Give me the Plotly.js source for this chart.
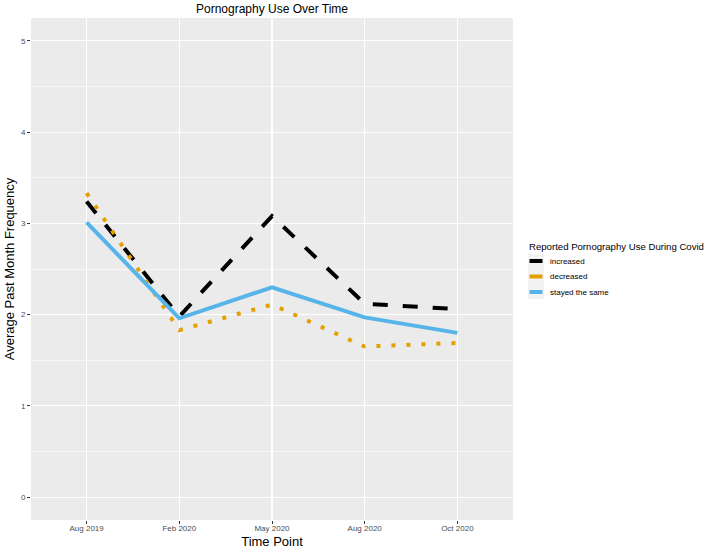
<!DOCTYPE html>
<html>
<head>
<meta charset="utf-8">
<script src="https://cdn.plot.ly/plotly-3.0.1.min.js"></script>
<style>html,body{margin:0;padding:0;background:#fff;}#chart{width:709px;height:549px;}</style>
</head>
<body>
<div id="chart"></div>
<script>
const timePoints = ["Aug 2019", "Feb 2020", "May 2020", "Aug 2020", "Oct 2020"];
const increased = [3.24, 1.98, 3.08, 2.12, 2.06];
const decreased = [3.33, 1.83, 2.11, 1.65, 1.69];
const stayedSame = [3.01, 1.96, 2.30, 1.97, 1.80];
const groupNames = ["increased", "decreased", "stayed the same"];
const legendTitle = "Reported Pornography Use During Covid";
const yTicks = [0, 1, 2, 3, 4, 5];

const colors = ["#000000", "#E69F00", "#56B4E9"];
const dashes = ["15px,15px", "4px,11px", "solid"];
const series = [increased, decreased, stayedSame];

const traces = series.map((vals, i) => ({
  x: timePoints, y: vals, type: "scatter", mode: "lines",
  name: groupNames[i], showlegend: false, hoverinfo: "skip",
  line: {color: colors[i], width: 4, dash: dashes[i]}
}));

const L = 31, R = 513, T = 18, B = 520;
const px2x = p => (p - L) / (R - L);
const px2y = p => (B - p) / (B - T);

// legend drawn as shapes + annotations (ggplot-style short solid keys)
const keyY = [261, 276.5, 292];
const shapes = [{
  type: "rect", xref: "paper", yref: "paper", layer: "below",
  x0: px2x(528), x1: px2x(544), y0: px2y(299), y1: px2y(254),
  fillcolor: "#F2F2F2", line: {width: 0}
}];
const annotations = [{
  text: legendTitle, showarrow: false,
  xref: "paper", yref: "paper", x: px2x(527), xanchor: "left", y: px2y(246), yanchor: "middle",
  font: {size: 9.6, color: "#000"}
}];
groupNames.forEach((g, i) => {
  shapes.push({
    type: "line", xref: "paper", yref: "paper",
    x0: px2x(529.5), x1: px2x(542.5), y0: px2y(keyY[i]), y1: px2y(keyY[i]),
    line: {color: colors[i], width: 4}
  });
  annotations.push({
    text: g, showarrow: false, xref: "paper", yref: "paper",
    x: px2x(548), xanchor: "left", y: px2y(keyY[i]), yanchor: "middle",
    font: {size: 8, color: "#000"}
  });
});

const layout = {
  width: 709, height: 549,
  margin: {l: L, r: 709 - R, t: T, b: 549 - B},
  paper_bgcolor: "#ffffff",
  plot_bgcolor: "#EBEBEB",
  font: {family: "Liberation Sans, Arial, sans-serif", color: "#000"},
  title: {text: "Pornography Use Over Time", font: {size: 12, color: "#000"},
          xref: "paper", x: 0.5, xanchor: "center", yref: "container", y: 1 - 9/549, yanchor: "middle"},
  xaxis: {
    type: "category", categoryorder: "array", categoryarray: timePoints,
    range: [-0.6, 4.6], showgrid: true, gridcolor: "#ffffff", gridwidth: 1.1,
    zeroline: false, showline: false,
    ticks: "outside", ticklen: 3, tickwidth: 1, tickcolor: "#333333",
    ticklabelstandoff: -3,
    tickfont: {size: 8, color: "#4D4D4D"},
    title: {text: "Time Point", font: {size: 13, color: "#000"}, standoff: 6},
    automargin: false
  },
  yaxis: {
    range: [-0.25, 5.25], tickvals: yTicks, ticktext: yTicks.map(String),
    showgrid: true, gridcolor: "#ffffff", gridwidth: 1.1,
    minor: {tickvals: [0.5, 1.5, 2.5, 3.5, 4.5], showgrid: true, gridcolor: "#ffffff", gridwidth: 0.6, ticks: ""},
    zeroline: false, showline: false,
    ticks: "outside", ticklen: 3, tickwidth: 1, tickcolor: "#333333",
    tickfont: {size: 8, color: "#4D4D4D"},
    title: {text: "Average Past Month Frequency", font: {size: 13, color: "#000"}, standoff: 3},
    automargin: false
  },
  shapes: shapes,
  annotations: annotations,
  showlegend: false
};

Plotly.newPlot("chart", traces, layout, {displayModeBar: false, staticPlot: true});
</script>
</body>
</html>
